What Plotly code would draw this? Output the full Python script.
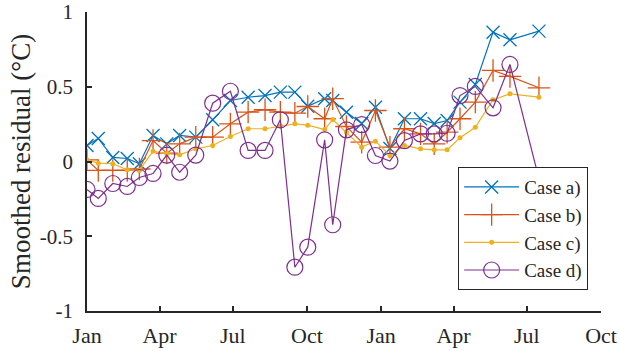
import plotly.graph_objects as go

dates = ["2018-01-01", "2018-01-15", "2018-02-02", "2018-02-20", "2018-03-07", "2018-03-24",
         "2018-04-10", "2018-04-26", "2018-05-16", "2018-06-06", "2018-06-28", "2018-07-20",
         "2018-08-10", "2018-08-29", "2018-09-16", "2018-10-02", "2018-10-23", "2018-11-02",
         "2018-11-19", "2018-12-08", "2018-12-25", "2019-01-12", "2019-01-30", "2019-02-19",
         "2019-03-08", "2019-03-24", "2019-04-09", "2019-04-28", "2019-05-20", "2019-06-10",
         "2019-07-16"]

case_a = [0.107, 0.154, 0.027, 0.02, -0.015, 0.174, 0.118, 0.174, 0.163, 0.279, 0.408,
          0.43, 0.441, 0.464, 0.464, 0.37, 0.42, 0.408, 0.33, 0.254, 0.363, 0.087, 0.286,
          0.286, 0.254, 0.274, 0.397, 0.515, 0.865, 0.814, 0.872]
case_b = [0.011, -0.06, -0.06, -0.06, -0.05, 0.14, 0.056, 0.118, 0.163, 0.163, 0.252,
          0.33, 0.346, 0.33, 0.323, 0.368, 0.286, 0.42, 0.234, 0.129, 0.341, 0.096, 0.219,
          0.185, 0.118, 0.196, 0.286, 0.397, 0.609, 0.569, 0.493]
case_c = [0.011, -0.011, -0.015, -0.056, -0.06, 0.069, 0.052, 0.045, 0.085, 0.107, 0.167,
          0.219, 0.219, 0.237, 0.252, 0.243, 0.214, 0.281, 0.196, 0.096, 0.136, 0.04, 0.107,
          0.085, 0.078, 0.078, 0.159, 0.229, 0.413, 0.453, 0.43]
case_d = [-0.187, -0.247, -0.147, -0.167, -0.107, -0.08, 0.043, -0.072, 0.043, 0.39, 0.47,
          0.074, 0.074, 0.279, -0.707, -0.573, 0.145, -0.423, 0.212, 0.247, 0.04, 0.003,
          0.14, 0.185, 0.185, 0.189, 0.441, 0.502, 0.359, 0.649, -0.116]

x_tick_vals = ["2018-01-01", "2018-04-01", "2018-07-01", "2018-10-01",
               "2019-01-01", "2019-04-01", "2019-07-01", "2019-10-01"]
x_tick_text = ["Jan", "Apr", "Jul", "Oct", "Jan", "Apr", "Jul", "Oct"]
y_tick_vals = [-1, -0.5, 0, 0.5, 1]
y_tick_text = ["-1", "-0.5", "0", "0.5", "1"]

series = [
    ("Case a)", case_a, "#0072BD", dict(symbol="x-thin-open", size=13, line=dict(width=1.3, color="#0072BD"))),
    ("Case b)", case_b, "#D95319", dict(symbol="cross-thin-open", size=16, line=dict(width=1.3, color="#D95319"))),
    ("Case c)", case_c, "#EDB120", dict(symbol="circle", size=5, color="#EDB120")),
    ("Case d)", case_d, "#7E2F8E", dict(symbol="circle-open", size=16, line=dict(width=1.2, color="#7E2F8E"))),
]

fig = go.Figure()
for name, vals, col, mk in series:
    fig.add_trace(go.Scatter(x=dates, y=vals, name=name, mode="lines+markers",
                             line=dict(color=col, width=1.2), marker=mk))

font = "Liberation Serif"
fig.update_layout(
    width=619, height=351,
    margin=dict(l=87, r=18, t=12, b=40),
    plot_bgcolor="white", paper_bgcolor="white",
    font=dict(family=font, size=22, color="#262626"),
    showlegend=True,
    legend=dict(x=0.975, y=0.07, xanchor="right", yanchor="bottom",
                bgcolor="white", bordercolor="#262626", borderwidth=1,
                font=dict(family=font, size=19, color="#262626"),
                tracegroupgap=0, itemwidth=55),
)
fig.update_xaxes(range=["2018-01-01", "2019-10-01"], tickvals=x_tick_vals, ticktext=x_tick_text,
                 showgrid=False, zeroline=False, showline=True, linecolor="#262626", linewidth=1.5,
                 ticks="inside", ticklen=5, tickwidth=1.5, tickcolor="#262626",
                 tickfont=dict(family=font, size=22), automargin=False, ticklabelstandoff=4)
fig.update_yaxes(range=[-1, 1], tickvals=y_tick_vals, ticktext=y_tick_text,
                 showgrid=False, zeroline=False, showline=True, linecolor="#262626", linewidth=1.5,
                 ticks="inside", ticklen=5, tickwidth=1.5, tickcolor="#262626",
                 tickfont=dict(family=font, size=21), automargin=False, ticklabelstandoff=8,
                 title=dict(text="Smoothed residual (°C)", font=dict(family=font, size=27), standoff=1))

fig.write_html("out.html")
